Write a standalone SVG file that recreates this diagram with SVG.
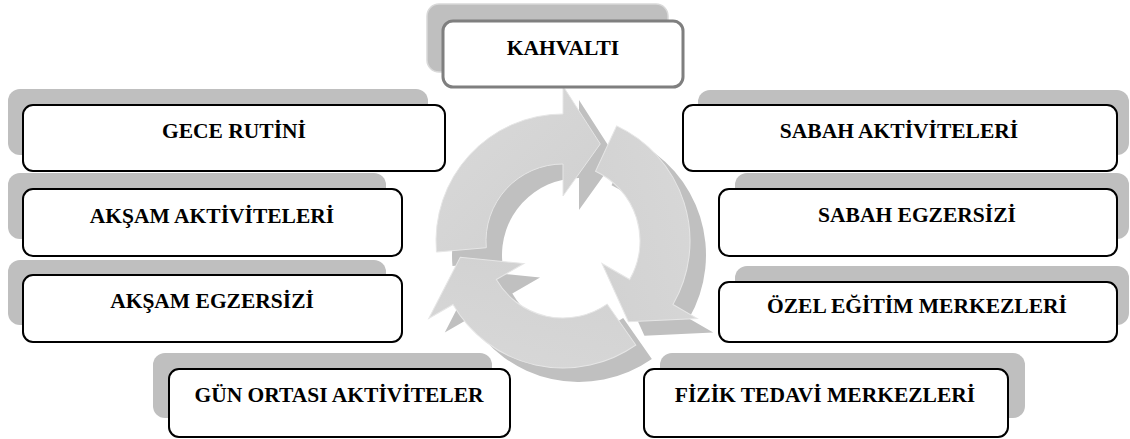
<svg xmlns="http://www.w3.org/2000/svg" width="1130" height="439" viewBox="0 0 1130 439">
<style>
.back{fill:#bfbfbf;}
.box{fill:#ffffff;stroke:#000000;stroke-width:2;}
.lbl{font-family:"Liberation Serif","Times New Roman",serif;font-weight:bold;font-size:21.5px;fill:#000;text-anchor:middle;}
.sh{fill:#c0c0c0;}
.fr{fill:url(#g);stroke:#e6e6e6;stroke-width:1;}
</style>
<defs>
<linearGradient id="g" x1="0" y1="0" x2="1" y2="1">
<stop offset="0" stop-color="#dadada"/>
<stop offset="1" stop-color="#cfcfcf"/>
</linearGradient>
<path id="arr" d="M436.48,252.07 A127,127 0 0 1 563,114 L563,86 L600.27,143.91 L563,196 L563,164 A77,77 0 0 0 486.29,247.71 Z"/>
<g id="ring">
<use href="#arr"/><use href="#arr" transform="rotate(120 563 241)"/><use href="#arr" transform="rotate(240 563 241)"/>
</g>
</defs>
<g id="cycle">
<g class="sh">
<use href="#ring" transform="translate(16,14)"/>
</g>
<g class="fr">
<use href="#ring"/>
</g>
</g>
<g id="connectors"></g>
<g id="kahvalti">
<rect x="427" y="4" width="241" height="68" rx="12" fill="#bfbfbf" stroke="#d9d9d9" stroke-width="1.5"/>
<rect x="443" y="21" width="240" height="66" rx="10" fill="#fff" stroke="#7f7f7f" stroke-width="3"/>
<text class="lbl" x="563" y="55">KAHVALTI</text>
</g>
<g id="gece">
<rect class="back" x="8" y="89" width="420" height="66" rx="12"/>
<rect class="box" x="23" y="105" width="422" height="66" rx="10"/>
<text class="lbl" x="234" y="138">GECE RUTİNİ</text>
</g>
<g id="aksam-akt">
<rect class="back" x="8" y="173" width="378" height="66" rx="12"/>
<rect class="box" x="23" y="189" width="379" height="67" rx="10"/>
<text class="lbl" x="212" y="223">AKŞAM AKTİVİTELERİ</text>
</g>
<g id="aksam-egz">
<rect class="back" x="8" y="260" width="378" height="65" rx="12"/>
<rect class="box" x="23" y="275" width="379" height="67" rx="10"/>
<text class="lbl" x="212" y="308">AKŞAM EGZERSİZİ</text>
</g>
<g id="gun-ortasi">
<rect class="back" x="153" y="353" width="339" height="65" rx="12"/>
<rect class="box" x="169" y="369" width="341" height="68" rx="10"/>
<text class="lbl" x="339" y="402">GÜN ORTASI AKTİVİTELER</text>
</g>
<g id="sabah-akt">
<rect class="back" x="698" y="90" width="431" height="65" rx="12"/>
<rect class="box" x="683" y="105" width="434" height="66" rx="10"/>
<text class="lbl" x="899" y="138">SABAH AKTİVİTELERİ</text>
</g>
<g id="sabah-egz">
<rect class="back" x="735" y="173" width="394" height="66" rx="12"/>
<rect class="box" x="719" y="189" width="398" height="67" rx="10"/>
<text class="lbl" x="917" y="222">SABAH EGZERSİZİ</text>
</g>
<g id="ozel">
<rect class="back" x="735" y="266" width="394" height="59" rx="12"/>
<rect class="box" x="719" y="282" width="398" height="60" rx="10"/>
<text class="lbl" x="917" y="313">ÖZEL EĞİTİM MERKEZLERİ</text>
</g>
<g id="fizik">
<rect class="back" x="660" y="353" width="365" height="65" rx="12"/>
<rect class="box" x="644" y="369" width="364" height="68" rx="10"/>
<text class="lbl" x="825" y="402">FİZİK TEDAVİ MERKEZLERİ</text>
</g>
</svg>
